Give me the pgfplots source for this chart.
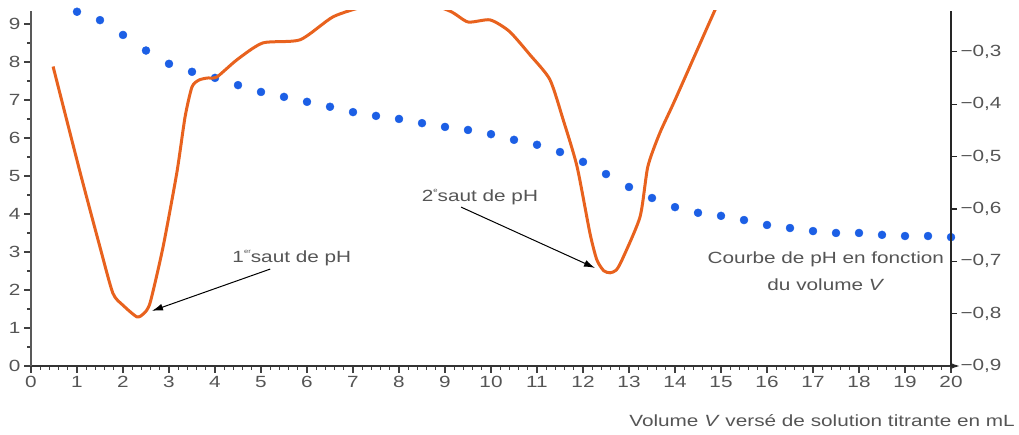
\documentclass[border=0pt]{standalone}
\usepackage{fontspec}
\setmainfont{Liberation Sans}[FakeStretch=1.28]
\usepackage{pgfplots}
\pgfplotsset{compat=1.18}
\usetikzlibrary{arrows.meta}

\definecolor{txt}{HTML}{555555}
\definecolor{phblue}{HTML}{1C5FE5}
\definecolor{dorange}{HTML}{E8621E}

\newcommand{\tinysup}[1]{\raisebox{0.55em}{\fontsize{6}{6}\selectfont #1}}

\begin{document}
\begin{tikzpicture}[font=\fontsize{16.2}{18}\selectfont]
\useasboundingbox (-31pt,-69pt) rectangle (988pt,366pt);

% pH (left axis)
\begin{axis}[
    at={(0,0)}, anchor=south west,
    scale only axis, width=920pt, height=355pt,
    xmin=0, xmax=20, ymin=0, ymax=9.34,
    axis x line*=bottom, axis y line*=left,
    axis line style={color=black!65, line width=1.5pt},
    x axis line style={-{Latex[length=10pt,width=7pt]}, shorten >=-9pt, color=black!80},
    y axis line style={-},
    xtick={0,...,20}, minor x tick num=4,
    ytick={0,...,9}, minor y tick num=1,
    tick align=outside,
    major tick length=7pt, minor tick length=4pt,
    tick style={color=black!75, line width=1.2pt},
    tick label style={color=txt},
    /pgf/number format/assume math mode=true,
]
\addplot[only marks, mark=*, mark size=4pt, color=phblue] coordinates {
    (1,9.32) (1.5,9.1) (2,8.71) (2.5,8.3) (3,7.95) (3.5,7.74)
    (4,7.58) (4.5,7.39) (5,7.21) (5.5,7.08) (6,6.95) (6.5,6.82) (7,6.68)
    (7.5,6.58) (8,6.5) (8.5,6.39) (9,6.29) (9.5,6.21) (10,6.1) (10.5,5.95)
    (11,5.82) (11.5,5.63) (12,5.37) (12.5,5.05) (13,4.71) (13.5,4.42)
    (14,4.18) (14.5,4.03) (15,3.95) (15.5,3.84) (16,3.71) (16.5,3.63)
    (17,3.55) (17.5,3.5) (18,3.5) (18.5,3.45) (19,3.42) (19.5,3.42) (20,3.39)
};

\node[txt] at (axis cs:5.67,2.84) {1\tinysup{er}saut de pH};
\draw[-{Latex[length=11pt,width=7pt]}, line width=1pt] (axis cs:5.2,2.55) -- (axis cs:2.63,1.45);
\node[txt] at (axis cs:9.76,4.45) {2\tinysup{e}saut de pH};
\draw[-{Latex[length=11pt,width=7pt]}, line width=1pt] (axis cs:9.35,4.18) -- (axis cs:12.26,2.58);
\node[txt, align=center, font=\fontsize{16.2}{27}\selectfont] at (axis cs:17.28,2.49)
    {Courbe de pH en fonction\\du volume \textit{V}};
\end{axis}

% derivative (right axis)
\begin{axis}[
    at={(0,0)}, anchor=south west,
    scale only axis, width=920pt, height=355pt,
    xmin=0, xmax=20, ymin=-0.9, ymax=-0.222,
    axis x line=none, axis y line*=right,
    y axis line style={-, color=black!85, line width=1.5pt},
    ytick={-0.9,-0.8,-0.7,-0.6,-0.5,-0.4,-0.3},
    yticklabels={{−0,9},{−0,8},{−0,7},{−0,6},{−0,5},{−0,4},{−0,3}},
    tick align=outside, major tick length=6pt,
    tick style={color=black!85, line width=1.2pt},
    tick label style={color=txt},
]
\addplot[smooth, tension=0.4, color=dorange, line width=3pt] coordinates {
    (0.48,-0.328) (1.07,-0.531) (1.5,-0.673) (1.78,-0.761) (2.0,-0.784)
    (2.3,-0.806) (2.45,-0.800) (2.59,-0.779) (2.87,-0.673) (3.17,-0.531)
    (3.35,-0.424) (3.5,-0.367) (3.65,-0.354) (3.83,-0.350) (4.04,-0.348)
    (4.48,-0.315) (5.04,-0.283) (5.85,-0.277) (6.57,-0.233)
    (7.3,-0.212) (8.2,-0.196) (9.1,-0.222) (9.5,-0.243) (9.98,-0.239)
    (10.4,-0.261) (10.85,-0.306) (11.28,-0.353) (11.57,-0.430) (11.87,-0.519)
    (12.15,-0.646) (12.3,-0.697) (12.45,-0.718) (12.59,-0.722) (12.72,-0.717)
    (12.85,-0.697) (13.24,-0.615) (13.41,-0.519) (13.67,-0.455) (14.0,-0.392)
    (14.87,-0.220) (15.2,-0.159)
};
\end{axis}

\node[txt, anchor=east, inner sep=0pt] at (984pt,-55pt)
    {Volume \textit{V} versé de solution titrante en mL};
\end{tikzpicture}
\end{document}
